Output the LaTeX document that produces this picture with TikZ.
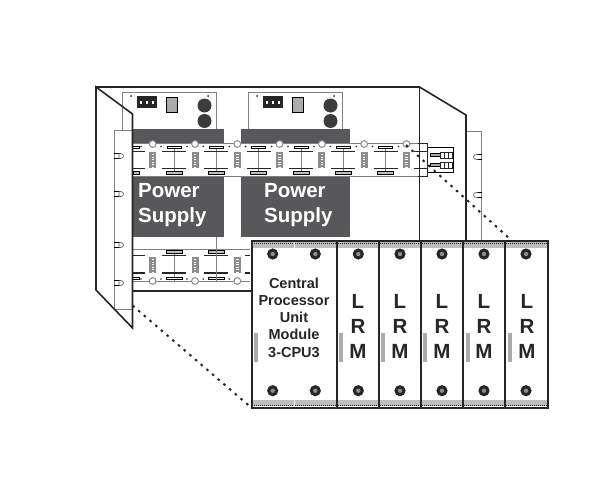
\documentclass[tikz,border=0pt]{standalone}
\usepackage{fontspec}
\setmainfont{Liberation Sans}
\definecolor{ink}{HTML}{262626}
\definecolor{psu}{HTML}{58585A}
\definecolor{thin}{HTML}{808080}
\definecolor{strip}{HTML}{BEBEBE}
\definecolor{barc}{HTML}{ABABAB}
\definecolor{colc}{HTML}{8C8C8C}
\tikzset{
  outline/.style={draw=ink,line width=1.6pt,line join=miter},
  hair/.style={draw=thin,line width=.6pt},
  psutext/.style={font=\bfseries\fontsize{20.5}{25}\selectfont,text=white,align=left,anchor=north west,inner sep=0pt},
  lead/.style={draw=ink,line width=2pt,dash pattern=on 2.5pt off 5pt},
  lrmtext/.style={font=\bfseries\fontsize{20.5}{25}\selectfont,text=ink,align=center,inner sep=0pt},
  cputext/.style={font=\bfseries\fontsize{14.5}{17.3}\selectfont,text=ink,align=center,inner sep=0pt},
  gbar/.style={fill=barc,draw=none},
  blk/.style={draw=ink,line width=1.1pt},
  ring/.style={draw=colc,fill=white,line width=1pt},
}
\begin{document}
\begin{tikzpicture}[x=1pt,y=-1pt]
\useasboundingbox (0,0) rectangle (606,479);
\fill[white] (0,0) rectangle (606,479);
% power-supply top cards
\foreach \d in {0,126}{
  \begin{scope}[xshift=\d pt]
    \draw[hair] (216.5,237) -- (216.5,92) -- (122,92) -- (122,130);
    \fill[ink] (137,96) rectangle (157,108);
    \foreach \px in {141,147,153} \fill[white] (\px-1,101) rectangle (\px+1,103.5);
    \fill[barc] (166,97) rectangle (177,112);
    \draw[thin,line width=.4pt] (166,97) rectangle (177,112);
    \fill[ink!90] (204.5,105.5) circle (7);
    \fill[ink!90] (204.5,121) circle (7);
    \fill[ink] (131,96) circle (1);
    \fill[ink] (208,96) circle (1);
  \end{scope}
}
\fill[psu] (132,129) rectangle (224,143);
\fill[psu] (241,129) rectangle (350,143);
% white band, upper and lower
\fill[white] (132,143) rectangle (418,176);
\draw[hair] (132,143.5) -- (418,143.5) (132,176) -- (418,176);
\draw[hair] (132,249) -- (250,249) (132,281) -- (250,281);
\draw[hair] (216.5,237) -- (216.5,249);
% band details
\foreach \k in {0,...,6}{
  \pgfmathsetmacro\cx{152.7+42.3*\k}
  \pgfmathsetmacro\lx{174+42.3*\k}
  \fill[colc] (\cx-3.5,152) rectangle (\cx+3.5,168);
  \foreach \dy in {154,156.5,...,167} \fill[white] (\cx-1.2,\dy) rectangle (\cx+1.2,\dy+1);
  \draw[ring] (\cx,144) circle (3.4);
  \ifnum\k<6
    \draw[hair] (\lx,147) -- (\lx,173);
    \draw[blk] (\lx-12,151.5) -- (\lx+12,151.5) (\lx-12,168.5) -- (\lx+12,168.5);
    \draw[thin,fill=white,line width=.6pt] (\lx-7,146) rectangle (\lx+7,148.5);
    \draw[thin,fill=strip,line width=.6pt] (\lx-8,171) rectangle (\lx+8,174);
    \fill[ink] (\lx-13,146.5) circle (.9) (\lx+13,146.5) circle (.9);
  \fi
}
\draw[blk] (132,151.5) -- (145,151.5) (132,168.5) -- (145,168.5);
\draw[thin,line width=.6pt] (132,146) -- (139,146) -- (139,148.5) -- (132,148.5);
\fill[ink] (141,146.5) circle (.9);
\draw[thin,fill=strip,line width=.6pt] (133,171) rectangle (139,174);
% lower band details (visible left of the module)
\foreach \k in {0,1,2}{
  \pgfmathsetmacro\cx{152.7+42.3*\k}
  \pgfmathsetmacro\lx{174+42.3*\k}
  \fill[colc] (\cx-3.5,257) rectangle (\cx+3.5,273);
  \foreach \dy in {259,261.5,...,272} \fill[white] (\cx-1.2,\dy) rectangle (\cx+1.2,\dy+1);
  \draw[ring] (\cx,281) circle (3.4);
  \ifnum\k<2
    \draw[hair] (\lx,249) -- (\lx,281);
    \draw[blk] (\lx-12,255.5) -- (\lx+12,255.5) (\lx-12,273) -- (\lx+12,273);
    \draw[thin,fill=strip,line width=.6pt] (\lx-8,250) rectangle (\lx+8,253);
    \draw[thin,fill=white,line width=.6pt] (\lx-8,277) rectangle (\lx+8,279.5);
    \fill[ink] (\lx-13,279) circle (.9) (\lx+13,279) circle (.9);
  \fi
}
\draw[hair] (216.5,249) -- (216.5,281);
\draw[blk] (132,255.5) -- (145,255.5) (132,273) -- (145,273);
\draw[blk] (245,255.5) -- (250,255.5) (245,273) -- (250,273);
\draw[thin,line width=.6pt] (132,277) -- (139,277) -- (139,279.5) -- (132,279.5);
\fill[ink] (141,279) circle (.9);
% power supplies
\fill[psu] (132,176.5) rectangle (224,237);
\fill[psu] (241,176.5) rectangle (350,237);
\node[psutext] (psa) at (138,183.5) {Power\\Supply};
\node[psutext] (psb) at (264,183.5) {Power\\Supply};
% rails and pegs
\draw[hair] (132,130) -- (114,130) -- (114,309) -- (132,309);
\draw[hair] (466,131) -- (481.5,131) -- (481.5,241);
\foreach \py in {156,194,245,283}{
  \draw[thin,line width=.6pt] (114,\py-2.3) -- (119.5,\py-2.3) (114,\py+2.3) -- (119.5,\py+2.3);
  \draw[ink!80,fill=white,line width=.6pt] (119,\py-2.5) -- (120.5,\py-2.5) .. controls (124.5,\py-2.5) and (124.5,\py+2.5) .. (120.5,\py+2.5) -- (119,\py+2.5) -- cycle;
}
\foreach \py in {157,195}{
  \draw[thin,line width=.6pt] (478,\py-2.3) -- (481.5,\py-2.3) (478,\py+2.3) -- (481.5,\py+2.3);
  \draw[ink!80,fill=white,line width=.6pt] (478,\py-2.5) -- (476.5,\py-2.5) .. controls (472.5,\py-2.5) and (472.5,\py+2.5) .. (476.5,\py+2.5) -- (478,\py+2.5);
}
% terminal block at the right end of the band
\draw[thin,line width=.7pt,fill=white] (427,147) rectangle (453,172);
\foreach \ty in {155,165}{
  \draw[thin,fill=barc,line width=.6pt] (430,\ty-1.5) rectangle (440,\ty+1.5);
  \draw[ink,fill=white,line width=.8pt] (440,\ty-3) rectangle (452,\ty+3);
  \draw[ink,line width=.8pt] (444,\ty-3) -- (444,\ty+3) (448,\ty-3) -- (448,\ty+3);
}
\draw[blk] (414,151.5) -- (427,151.5) (414,168.5) -- (427,168.5);
\draw[ink,line width=.7pt] (418,143.5) -- (427,143.5) -- (427,176) -- (418,176);
% cabinet and doors
\draw[outline] (96,87) -- (419.5,87);
\draw[outline] (132,291) -- (251,291);
\draw[outline] (96,87) -- (132.5,114) -- (132.5,328) -- (96,290) -- cycle;
\draw[outline] (419.5,87) -- (466,115) -- (466,241);
\draw[outline] (419.5,87) -- (419.5,241);
% module
\fill[white] (251.7,240.7) rectangle (548,407.7);
\foreach \a/\b in {252/293.5,295/336.5,337.5/378.5,379.5/420.5,421.5/462.5,463.5/504.5,505.5/547.5}{
  \fill[strip] (\a,241.5) rectangle (\b,248);
  \fill[strip] (\a,399.5) rectangle (\b,405.5);
  \draw[ink,line width=.9pt,dash pattern=on 1pt off 1pt] (\a,243) -- (\b,243);
  \draw[ink,line width=.9pt,dash pattern=on 1pt off 1pt] (\a,405) -- (\b,405);
}
\foreach \sx in {272.7,315.3,358.3,400,442,484,526}{
  \fill[ink] (\sx,254) circle (5.6);
  \fill[colc] (\sx,254) circle (2.2);
  \fill[ink] (\sx,390.7) circle (5.6);
  \fill[colc] (\sx,390.7) circle (2.2);
}
\foreach \bx in {254,339.3,381,423,466,508}{
  \fill[gbar] (\bx,332.7) rectangle (\bx+3.8,361.7);
}
\draw[outline] (251.7,240.7) rectangle (548,407.7);
\foreach \dx in {336.7,379,420.7,463,505}{
  \draw[outline] (\dx,240.7) -- (\dx,407.7);
}
\node[cputext] (cpu) at (294,317.5) {Central\\Processor\\Unit\\Module\\3-CPU3};
\node[lrmtext] (l1) at (358,326.5) {L\\R\\M};
\node[lrmtext] (l2) at (400,326.5) {L\\R\\M};
\node[lrmtext] (l3) at (442,326.5) {L\\R\\M};
\node[lrmtext] (l4) at (484,326.5) {L\\R\\M};
\node[lrmtext] (l5) at (527,326.5) {L\\R\\M};
% lead lines
\coordinate (ua) at (406,145);
\coordinate (ub) at (510,239);
\coordinate (la) at (132.5,305.5);
\coordinate (lb) at (250,406.5);
\draw[lead] (ua) -- (ub);
\draw[lead] (la) -- (lb);
\end{tikzpicture}
\end{document}
